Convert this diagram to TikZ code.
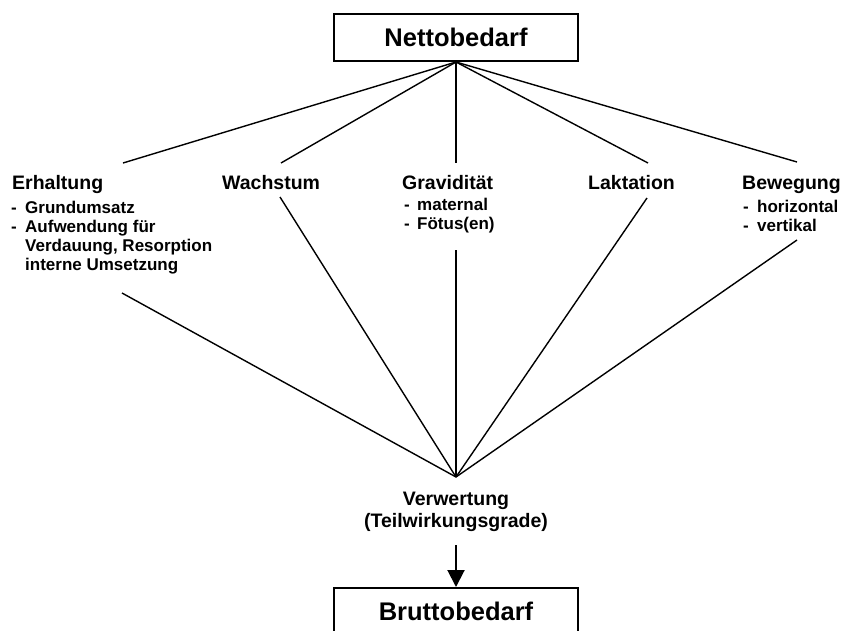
\documentclass[tikz,border=0pt]{standalone}
\usepackage{fontspec}
\setmainfont{Liberation Sans}
\usetikzlibrary{arrows.meta}
\begin{document}
\begin{tikzpicture}[x=1pt,y=-1pt,
  box/.style={draw,line width=2pt,minimum width=244pt,minimum height=47pt,inner sep=0pt,
    font=\fontsize{25.5}{28}\selectfont\bfseries},
  head/.style={inner sep=0pt,anchor=base west,font=\fontsize{19.5}{22}\selectfont\bfseries},
  item/.style={inner sep=0pt,anchor=base west,font=\fontsize{17}{19}\selectfont\bfseries},
  conn/.style={line width=1.4pt},
  arr/.style={line width=2pt,-{Triangle[width=17pt,length=17pt]}}]
\useasboundingbox (0,0) rectangle (843,630);
\clip (0,0) rectangle (843,630);

% boxes
\node[box] (netto) at (456,37.5) {Nettobedarf};
\node[box] (brutto) at (456,611.5) {Bruttobedarf};

% headings
\node[head] (erh) at (12,189) {Erhaltung};
\node[head] (wach) at (222,189) {Wachstum};
\node[head] (grav) at (402,189) {Gravidität};
\node[head] (lakt) at (588,189) {Laktation};
\node[head] (bew) at (742,189) {Bewegung};

% items
\node[item] (erh1) at (11,213) {\makebox[14pt][l]{-}Grundumsatz};
\node[item] (erh2) at (11,232) {\makebox[14pt][l]{-}Aufwendung für};
\node[item] (erh3) at (25,251) {Verdauung, Resorption};
\node[item] (erh4) at (25,270) {interne Umsetzung};
\node[item] (grav1) at (404,210) {\makebox[13pt][l]{-}maternal};
\node[item] (grav2) at (404,229) {\makebox[13pt][l]{-}Fötus(en)};
\node[item] (bew1) at (743,212) {\makebox[14pt][l]{-}horizontal};
\node[item] (bew2) at (743,231) {\makebox[14pt][l]{-}vertikal};

% Verwertung
\node[head,anchor=base] (verw) at (456,505) {Verwertung};
\node[head,anchor=base] (teil) at (456,527) {(Teilwirkungsgrade)};

% connector end points
\coordinate (et) at (123,163);
\coordinate (wt) at (281,163);
\coordinate (gt) at (456,163);
\coordinate (lt) at (648,163);
\coordinate (bt) at (797,162);
\coordinate (eb) at (122,293);
\coordinate (wb) at (280,197);
\coordinate (gb) at (456,250);
\coordinate (lb) at (647,198);
\coordinate (bb) at (797,240);
\coordinate (conv) at (456,477);

\foreach \p in {et,wt,gt,lt,bt}
  \draw[conn] (netto.south) -- (\p);
\foreach \p in {eb,wb,gb,lb,bb}
  \draw[conn] (\p) -- (conv);

\draw[arr] (teil.south) ++(0,14) -- (brutto.north);
\end{tikzpicture}
\end{document}
